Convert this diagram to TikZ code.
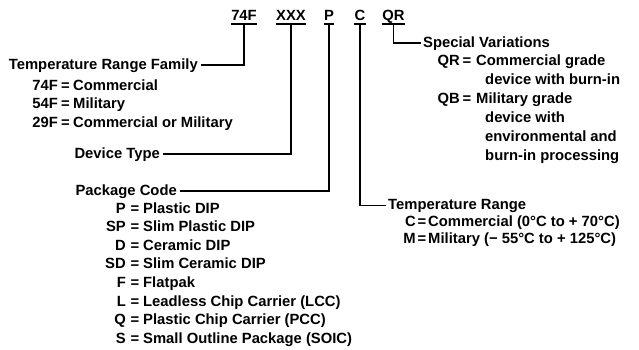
\documentclass[tikz,border=0pt]{standalone}
\usepackage{fontspec}
\setmainfont{Liberation Sans}
\begin{document}
\begin{tikzpicture}[x=1pt,y=-1pt,
  font=\bfseries\fontsize{14.8}{17}\selectfont,
  conn/.style={line width=1.5pt},
  code/.style={inner sep=0pt,anchor=base},
  title/.style={inner xsep=2.5pt,inner ysep=0pt},
  keyR/.style={inner sep=0pt,anchor=base east},
  eqs/.style={inner sep=0pt,anchor=base},
  desc/.style={inner sep=0pt,anchor=base west}]
\useasboundingbox (0,0) rectangle (639,349);
% part number codes
\node[code] (c74) at (244,20) {74F};
\node[code] (cx)  at (291,20) {XXX};
\node[code] (cp)  at (329,20) {P};
\node[code] (cc)  at (360,20) {C};
\node[code] (cq)  at (393.5,20) {QR};
\foreach \n in {c74,cx,cp,cc,cq}{
  \draw[conn] ([yshift=-4pt]\n.base west) -- ([yshift=-4pt]\n.base east);
  \coordinate (u\n) at ([yshift=-4pt]\n.base);
}
% Temperature Range Family
\node[title,anchor=base east] (fam) at (200.5,69) {Temperature Range Family};
\node[keyR] (f1k) at (58,90) {74F};   \node[eqs] (f1e) at (65.5,90) {=};   \node[desc] (f1d) at (73,90) {Commercial};
\node[keyR] (f2k) at (58,108.5) {54F}; \node[eqs] (f2e) at (65.5,108.5) {=}; \node[desc] (f2d) at (73,108.5) {Military};
\node[keyR] (f3k) at (58,127) {29F};  \node[eqs] (f3e) at (65.5,127) {=};  \node[desc] (f3d) at (73,127) {Commercial or Military};
% Device Type
\node[title,anchor=base east] (dev) at (162.5,158) {Device Type};
% Package Code
\node[title,anchor=base east] (pkg) at (179.5,195) {Package Code};
\node[keyR] (p1k) at (126,213.0) {P};  \node[eqs] (p1e) at (135,213.0) {=}; \node[desc] (p1d) at (143,213.0) {Plastic DIP};
\node[keyR] (p2k) at (126,231.6) {SP}; \node[eqs] (p2e) at (135,231.6) {=}; \node[desc] (p2d) at (143,231.6) {Slim Plastic DIP};
\node[keyR] (p3k) at (126,250.2) {D};  \node[eqs] (p3e) at (135,250.2) {=}; \node[desc] (p3d) at (143,250.2) {Ceramic DIP};
\node[keyR] (p4k) at (126,268.8) {SD}; \node[eqs] (p4e) at (135,268.8) {=}; \node[desc] (p4d) at (143,268.8) {Slim Ceramic DIP};
\node[keyR] (p5k) at (126,287.4) {F};  \node[eqs] (p5e) at (135,287.4) {=}; \node[desc] (p5d) at (143,287.4) {Flatpak};
\node[keyR] (p6k) at (126,306.0) {L};  \node[eqs] (p6e) at (135,306.0) {=}; \node[desc] (p6d) at (143,306.0) {Leadless Chip Carrier (LCC)};
\node[keyR] (p7k) at (126,324.6) {Q};  \node[eqs] (p7e) at (135,324.6) {=}; \node[desc] (p7d) at (143,324.6) {Plastic Chip Carrier (PCC)};
\node[keyR] (p8k) at (126,343.2) {S};  \node[eqs] (p8e) at (135,343.2) {=}; \node[desc] (p8d) at (143,343.2) {Small Outline Package (SOIC)};
% Special Variations
\node[title,anchor=base west] (spec) at (420.5,47) {Special Variations};
\node[keyR] (s1k) at (460,65) {QR}; \node[eqs] (s1e) at (467,65) {=}; \node[desc] (s1d) at (476,65) {Commercial grade};
\node[desc] (s1c) at (485,84) {device with burn-in};
\node[keyR] (s2k) at (460,103) {QB}; \node[eqs] (s2e) at (467,103) {=}; \node[desc] (s2d) at (476,103) {Military grade};
\node[desc] (s2c) at (485,122) {device with};
\node[desc] (s2f) at (485,141) {environmental and};
\node[desc] (s2g) at (485,160) {burn-in processing};
% Temperature Range
\node[title,anchor=base west] (temp) at (385.5,209) {Temperature Range};
\node[keyR] (t1k) at (416,226) {C}; \node[eqs] (t1e) at (422,226) {=}; \node[desc] (t1d) at (428,226) {Commercial (0°C to + 70°C)};
\node[keyR] (t2k) at (416,243) {M}; \node[eqs] (t2e) at (422,243) {=}; \node[desc] (t2d) at (428,243) {Military (− 55°C to + 125°C)};
% connectors
\draw[conn] (uc74) |- (fam.east);
\draw[conn] (ucx) |- (dev.east);
\draw[conn] (ucp) |- (pkg.east);
\draw[conn] (ucc) |- (temp.west);
\draw[conn] (ucq) |- (spec.west);
\end{tikzpicture}
\end{document}
